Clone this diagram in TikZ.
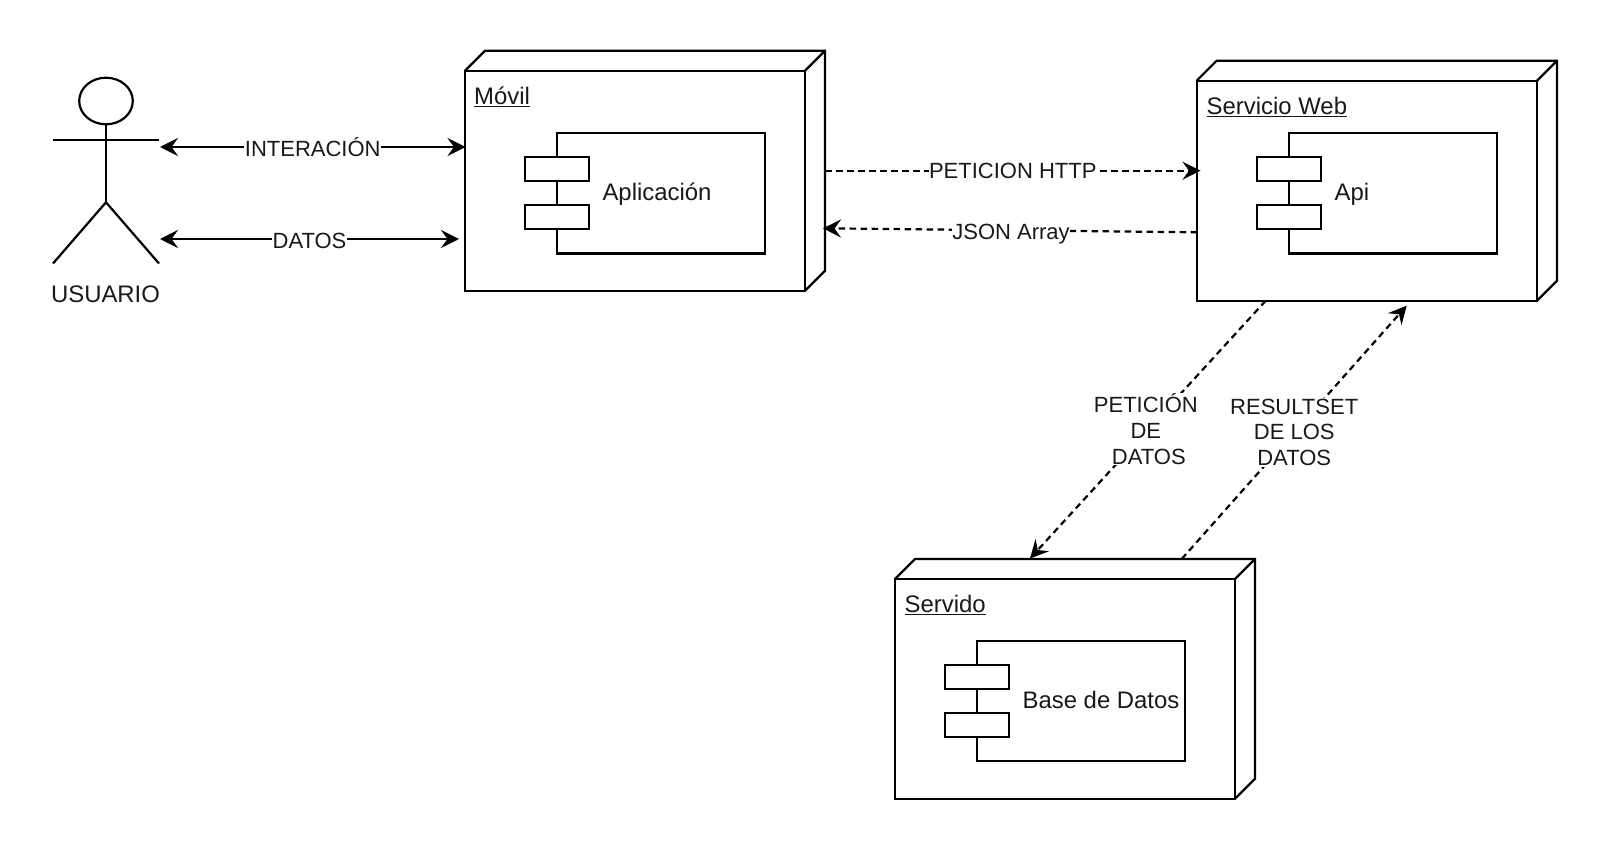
\documentclass[tikz,border=0pt]{standalone}
\usepackage{fontspec}
\setmainfont{Liberation Sans}
\usetikzlibrary{arrows.meta,calc,shapes.geometric}
\newcommand{\NodeBox}[5]{% name, left, top, right, bottom
  \node[boxface,draw,anchor=north west,minimum width={(#4-#2)*1pt},minimum height={(#5-#3)*1pt}] (#1) at (#2,#3) {};
  \draw[boxline] (#1.north west) -- ++(20,-20) -- ($(#1.north east)+(20,-20)$) -- ($(#1.south east)+(20,-20)$) -- (#1.south east);
  \draw[boxline] (#1.north east) -- ++(20,-20);
}
\newcommand{\CompBox}[3]{% name, left, top (component body)
  \node[boxface,draw,anchor=north west,minimum width=208pt,minimum height=120.5pt] (#1) at (#2,#3) {};
  \node[boxface,draw,anchor=north west,minimum width=64pt,minimum height=24pt] (#1a) at ($(#1.north west)+(-32,24)$) {};
  \node[boxface,draw,anchor=north west,minimum width=64pt,minimum height=24pt] (#1b) at ($(#1.north west)+(-32,72)$) {};
}
\tikzset{
  boxline/.style={line width=2.2pt,draw=black,line join=miter},
  boxface/.style={fill=white,line width=2.2pt,inner sep=0pt,outer sep=0pt},
  txt/.style={font=\fontsize{23.9}{25.7}\selectfont,text=black!90,inner sep=0pt},
  lab/.style={txt,font=\fontsize{22}{25.7}\selectfont,fill=white,inner xsep=0.5pt,inner ysep=1pt,align=center},
  link/.style={line width=2.2pt,draw=black},
  tipsolid/.tip={Stealth[length=18pt,width=18pt,inset=6.5pt]},
  both/.style={link,tipsolid-tipsolid},
  dashlink/.style={link,dash pattern=on 6.5pt off 4.5pt,-tipsolid}
}
\begin{document}
\begin{tikzpicture}[x=1pt,y=-1pt]
\useasboundingbox[fill=white] (0,0) rectangle (1608,850);

% actor
\node[boxline,draw,ellipse,inner sep=0pt,outer sep=0pt,minimum width=53.6pt,minimum height=46.6pt] (head) at (106,101) {};
\coordinate (hip) at (106,202.3);
\coordinate (armL) at (53,139.7);
\coordinate (armR) at (159,139.7);
\coordinate (legL) at (53,263.5);
\coordinate (legR) at (159,263.5);
\draw[boxline] (head.south) -- (hip);
\draw[boxline] (armL) -- (armR);
\draw[boxline] (legL) -- (hip) -- (legR);
\node[txt,anchor=base] (usuario) at (105.5,302) {USUARIO};

% deployment nodes
\NodeBox{movil}{465}{70.7}{805}{290.7}
\CompBox{app}{556.7}{133}
\node[txt,anchor=base west] (movilT) at (474,104.5) {\underline{Móvil}};
\node[txt,anchor=base] (appT) at (657,200.7) {Aplicación};

\NodeBox{web}{1196.7}{80.7}{1537}{300.7}
\CompBox{api}{1289}{133}
\node[txt,anchor=base west] (webT) at (1206.5,114.5) {\underline{Servicio Web}};
\node[txt,anchor=base] (apiT) at (1352,201) {Api};

\NodeBox{srv}{895}{579}{1235}{798.7}
\CompBox{db}{977}{640.7}
\node[txt,anchor=base west] (srvT) at (904.5,612.5) {\underline{Servido}};
\node[txt,anchor=base] (dbT) at (1101,708) {Base de Datos};

% connector ends
\coordinate (i1) at (160,147);
\coordinate (i2) at (465.5,147);
\coordinate (d1) at (160,239);
\coordinate (d2) at (459,239);
\coordinate (h1) at (825,170.7);
\coordinate (h2) at (1200.5,170.7);
\coordinate (j1) at (1197,232.3);
\coordinate (j2) at (823,228.3);
\coordinate (p1) at (1265.7,300.7);
\coordinate (p2) at (1030,558.5);
\coordinate (r1) at (1181.7,559);
\coordinate (r2) at (1406.7,305.7);

\draw[both] (i1) -- node[lab] (iL) {INTERACIÓN} (i2);
\draw[both] (d1) -- node[lab,yshift=-1.5pt] (dL) {DATOS} (d2);
\draw[dashlink] (h1) -- node[lab] (hL) {PETICION HTTP} (h2);
\draw[dashlink] (j1) -- node[lab,xshift=1pt,yshift=-3.5pt] (jL) {JSON Array} (j2);
\draw[dashlink] (p1) -- node[lab,xshift=-2pt,yshift=0.5pt] (pL) {PETICIÓN\\DE\\\hspace*{6pt}DATOS} (p2);
\draw[dashlink] (r1) -- node[lab] (rL) {RESULTSET\\DE LOS\\DATOS} (r2);
\end{tikzpicture}
\end{document}
